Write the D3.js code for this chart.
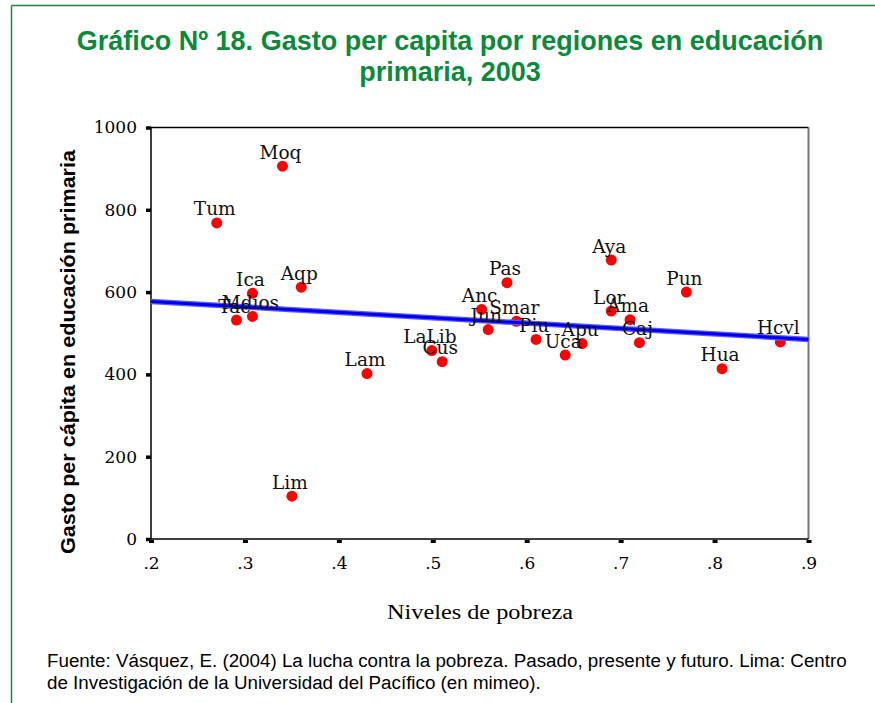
<!DOCTYPE html>
<html>
<head>
<meta charset="utf-8">
<script src="https://cdn.jsdelivr.net/npm/d3@7"></script>
<style>
  html, body { margin: 0; padding: 0; background: #fff; }
  svg { display: block; }
</style>
</head>
<body>
<script>
// ---- data ----
const regions = ["Moq","Tum","Ica","Aqp","Tac","Mdios","Lam","Lim","LaLib","Cus","Pas","Anc","Jun","Smar","Piu","Uca","Apu","Aya","Lor","Ama","Caj","Pun","Hua","Hcvl"];
const poverty = [0.340,0.270,0.308,0.360,0.291,0.308,0.430,0.350,0.499,0.510,0.579,0.552,0.559,0.589,0.610,0.641,0.659,0.690,0.690,0.710,0.720,0.770,0.808,0.870];
const spending = [906,768,597,612,532,541,402,104,458,431,623,558,509,529,485,447,475,678,554,533,477,600,414,479];
const fitX = [0.2, 0.9];
const fitY = [577, 485];
const xTicks = [0.2,0.3,0.4,0.5,0.6,0.7,0.8,0.9];
const xTickLabels = [".2",".3",".4",".5",".6",".7",".8",".9"];
const yTicks = [0,200,400,600,800,1000];
const titleLines = ["Gráfico Nº 18. Gasto per capita por regiones en educación","primaria, 2003"];
const xTitle = "Niveles de pobreza";
const yTitle = "Gasto per cápita en educación primaria";
const footerLines = ["Fuente: Vásquez, E. (2004) La lucha contra la pobreza. Pasado, presente y futuro. Lima: Centro","de Investigación de la Universidad del Pacífico (en mimeo)."];

const W = 875, H = 703;
const svg = d3.select("body").append("svg").attr("width", W).attr("height", H);
svg.append("rect").attr("width", W).attr("height", H).attr("fill", "#fff");

// green frame
const green = "#1b8a3f";
svg.append("line").attr("x1", 11.5).attr("y1", 5.5).attr("x2", W).attr("y2", 5.5)
  .attr("stroke", green).attr("stroke-width", 1.5);
svg.append("line").attr("x1", 11.5).attr("y1", 5.5).attr("x2", 11.5).attr("y2", H)
  .attr("stroke", green).attr("stroke-width", 1.5);

// title
svg.append("g").selectAll("text").data(titleLines).join("text")
  .attr("x", 450).attr("y", (d, i) => 50 + i * 31)
  .attr("text-anchor", "middle")
  .attr("font-family", "Liberation Sans, Arial, sans-serif")
  .attr("font-weight", "bold").attr("font-size", 27)
  .attr("fill", "#0a8a3a").text(d => d);

// scales
const x = d3.scaleLinear().domain([0.2, 0.9]).range([151, 808.5]);
const y = d3.scaleLinear().domain([0, 1000]).range([539, 127.5]);

// plot frame
svg.append("line").attr("x1", 151).attr("x2", 808.5).attr("y1", 127.5).attr("y2", 127.5).attr("stroke", "#000").attr("stroke-width", 1.5);
svg.append("line").attr("x1", 808.5).attr("x2", 808.5).attr("y1", 127.5).attr("y2", 539).attr("stroke", "#777").attr("stroke-width", 2);

// axes
const serif = "DejaVu Serif, serif";
const yAxis = d3.axisLeft(y).tickValues(yTicks).tickSize(5).tickPadding(9).tickFormat(d3.format("d"));
const gy = svg.append("g").attr("transform", "translate(151,0)").call(yAxis);
gy.select(".domain").attr("stroke", "#000").attr("stroke-width", 1.5).attr("d", `M0,${y(1000)}V${y(0)}`);
gy.selectAll(".tick line").attr("stroke", "#000").attr("stroke-width", 3.5);
gy.selectAll(".tick text").attr("font-family", serif).attr("font-size", 17).attr("fill", "#000");

const xAxis = d3.axisBottom(x).tickValues(xTicks).tickSize(4).tickPadding(14)
  .tickFormat((d, i) => xTickLabels[i]);
const gx = svg.append("g").attr("transform", "translate(0,539)").call(xAxis);
gx.select(".domain").attr("stroke", "#000").attr("stroke-width", 1.5).attr("d", `M${x(0.2)},0H${x(0.9)}`);
gx.selectAll(".tick line").attr("stroke", "#000").attr("stroke-width", 5).attr("y1", 1);
gx.selectAll(".tick text").attr("font-family", serif).attr("font-size", 17).attr("fill", "#000");

// axis titles
svg.append("text").attr("x", 480).attr("y", 619).attr("text-anchor", "middle")
  .attr("font-family", "Liberation Serif, Times New Roman, serif").attr("font-size", 20)
  .attr("textLength", 186).attr("lengthAdjust", "spacingAndGlyphs")
  .attr("fill", "#000").text(xTitle);
svg.append("text").attr("transform", "translate(75,352) rotate(-90)").attr("text-anchor", "middle")
  .attr("font-family", "Liberation Sans, Arial, sans-serif").attr("font-weight", "bold")
  .attr("font-size", 20).attr("textLength", 404).attr("lengthAdjust", "spacingAndGlyphs")
  .attr("fill", "#000").text(yTitle);

// data
const pts = regions.map((r, i) => ({ r, x: poverty[i], y: spending[i] }));

svg.append("g").selectAll("circle").data(pts).join("circle")
  .attr("cx", d => x(d.x)).attr("cy", d => y(d.y)).attr("r", 5.5).attr("fill", "#ff0000");

// fit line
const fit = fitX.map((v, i) => [v, fitY[i]]);
const lineGen = d3.line().x(d => x(d[0])).y(d => y(d[1]));
svg.append("path").attr("d", lineGen(fit)).attr("stroke", "#5a5aff").attr("stroke-width", 5.5).attr("fill", "none");
svg.append("path").attr("d", lineGen(fit)).attr("stroke", "#0000e8").attr("stroke-width", 3).attr("fill", "none");

// labels
svg.append("g").selectAll("text").data(pts).join("text")
  .attr("x", d => x(d.x) - 2).attr("y", d => y(d.y) - 7.5)
  .attr("text-anchor", "middle").attr("font-family", serif).attr("font-size", 18.5)
  .attr("fill", "#111").text(d => d.r);

// footer
svg.append("g").selectAll("text").data(footerLines).join("text")
  .attr("x", 47).attr("y", (d, i) => 667 + i * 22)
  .attr("font-family", "Liberation Sans, Arial, sans-serif").attr("font-size", 18.8)
  .attr("fill", "#000").text(d => d);
</script>
</body>
</html>
